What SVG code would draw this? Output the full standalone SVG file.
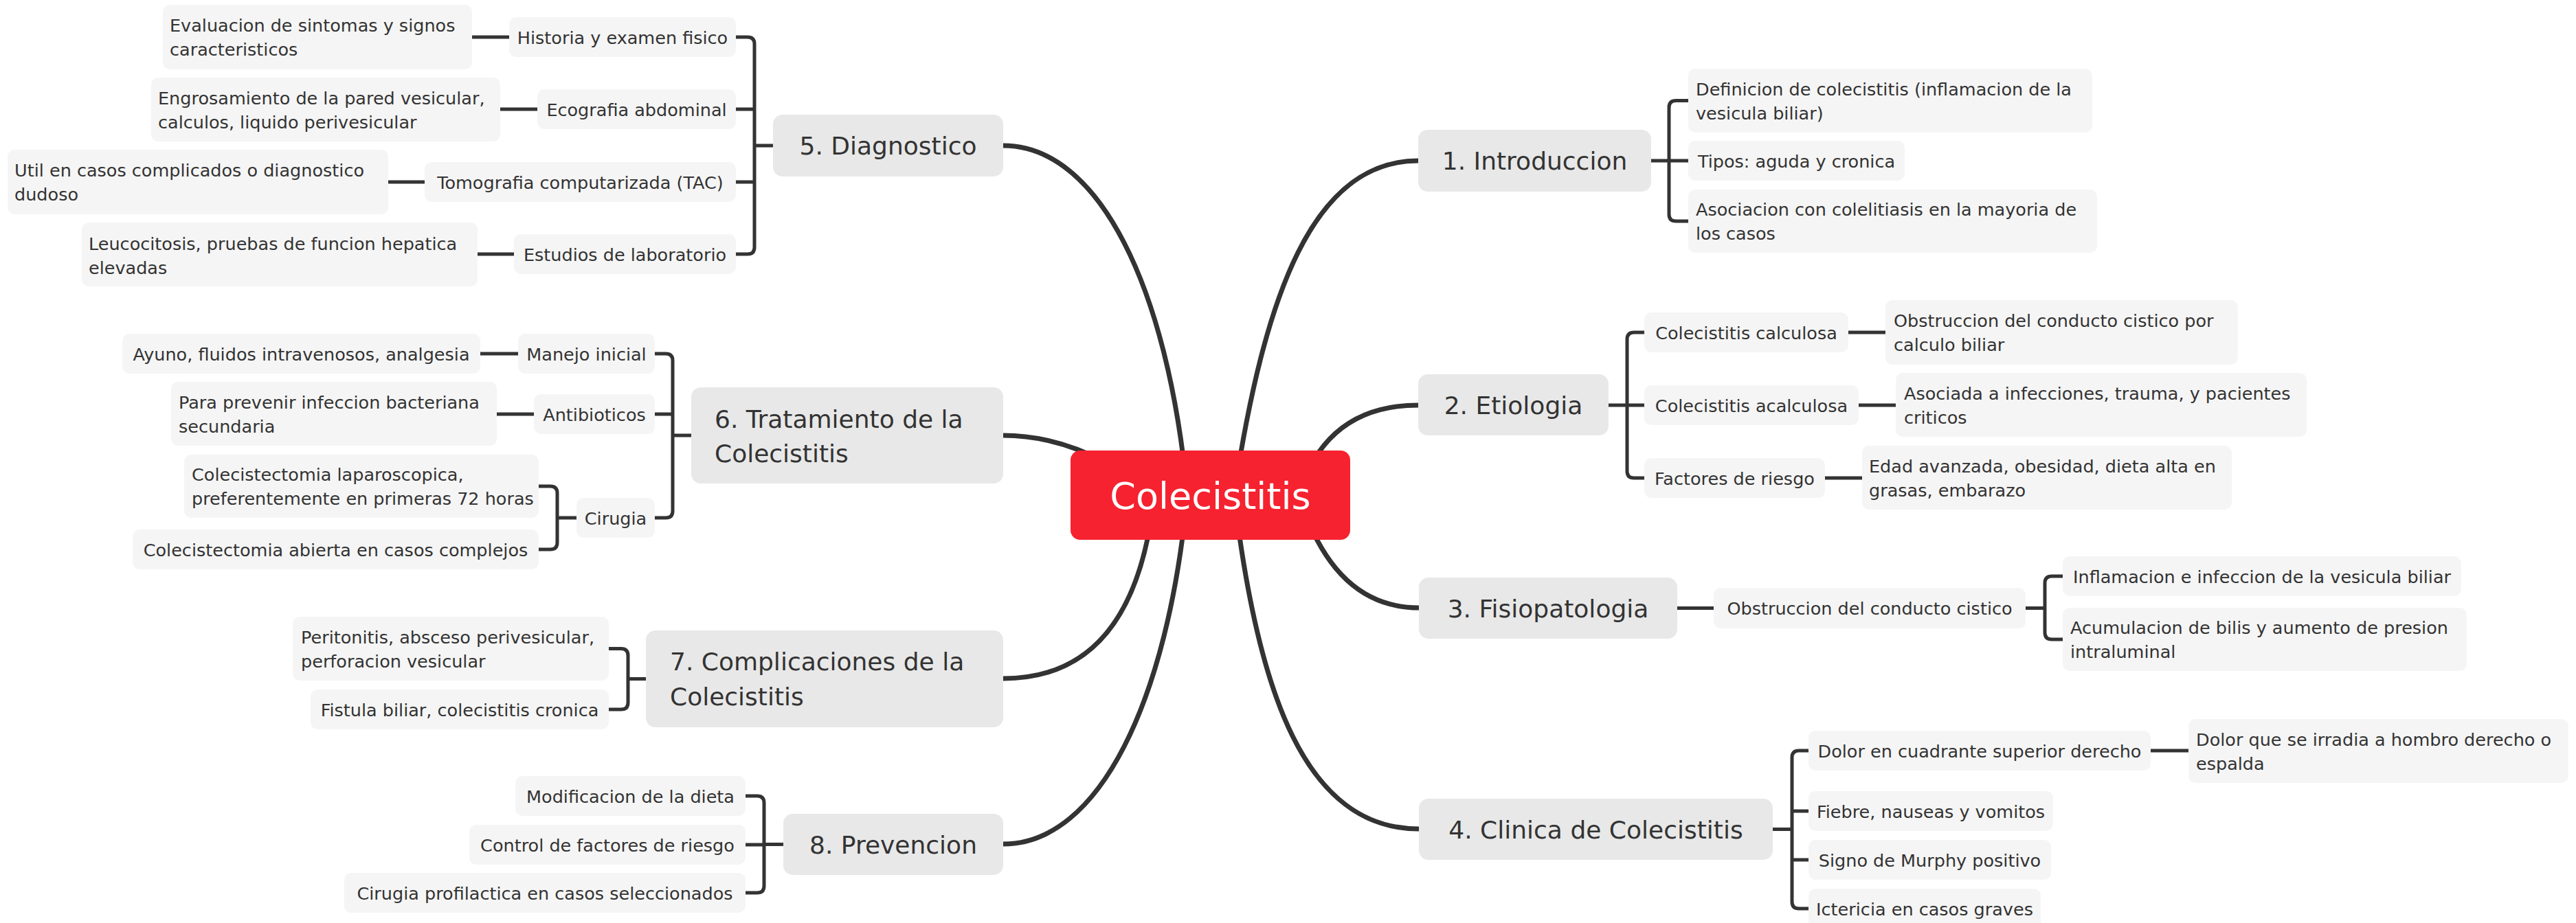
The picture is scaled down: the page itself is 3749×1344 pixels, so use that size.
<svg xmlns="http://www.w3.org/2000/svg" width="3749" height="1344" viewBox="0 0 3749 1344">
<style>
text{font-family:"DejaVu Sans","Liberation Sans",sans-serif;fill:#333333}
.curve{fill:none;stroke:#333333;stroke-width:7;stroke-linecap:round}
.br{fill:none;stroke:#333333;stroke-width:5}
.root rect{fill:#F6222F}
.root text{fill:#FFFFFF;font-size:54px;text-anchor:middle}
.main rect{fill:#E8E8E8}
.main text{font-size:36px}
.sub rect{fill:#F5F5F5}
.sub text{font-size:25.5px}
.c{text-anchor:middle}
</style>
<rect width="3749" height="1344" fill="#FFFFFF"/>
<g id="connectors">
<path class="curve" d="M1728,720 C1700,420 1600,212 1460,212"/>
<path class="curve" d="M1700,735 Q1580,634 1460,634"/>
<path class="curve" d="M1680,720 C1660,910 1580,988 1460,988"/>
<path class="curve" d="M1728,720 C1700,1020 1600,1229 1460,1229"/>
<path class="curve" d="M1796,720 C1840,430 1910,234 2064,234"/>
<path class="curve" d="M1890,720 Q1931,590 2064,590"/>
<path class="curve" d="M1890,720 Q1941,885 2065,885"/>
<path class="curve" d="M1796,720 C1830,1010 1900,1207 2065,1207"/>
<path class="br" d="M2403,234 H2457 M2457,146.5 H2439 Q2429,146.5 2429,156.5 V312 Q2429,322 2439,322 H2457"/>
<path class="br" d="M2341,590 H2393 M2393,484 H2378 Q2368,484 2368,494 V686 Q2368,696 2378,696 H2393"/>
<path class="br" d="M2690,484 H2744 M2705,590 H2759 M2656,696 H2710"/>
<path class="br" d="M2441,885.5 H2494 M2948,885.5 H2976 M3002,839 H2986 Q2976,839 2976,849 V921 Q2976,931 2986,931 H3002"/>
<path class="br" d="M2580,1207.5 H2608 M2632,1093 H2618 Q2608,1093 2608,1103 V1313 Q2608,1323 2618,1323 H2632 M2608,1181 H2632 M2608,1252 H2632 M3130,1093 H3185"/>
<path class="br" d="M1125,212 H1098 M1071,54 H1088 Q1098,54 1098,64 V360 Q1098,370 1088,370 H1071 M1098,159 H1071 M1098,265 H1071"/>
<path class="br" d="M687,54 H741 M728,159 H782 M565,265 H618 M695,370 H748"/>
<path class="br" d="M1006,634 H979 M953,515 H969 Q979,515 979,525 V744 Q979,754 969,754 H953 M979,603 H953 M699,515 H754 M723,603 H777"/>
<path class="br" d="M839,754 H811 M784,708 H801 Q811,708 811,718 V790 Q811,800 801,800 H784"/>
<path class="br" d="M940,988.5 H914 M886,944.5 H904 Q914,944.5 914,954.5 V1023 Q914,1033 904,1033 H886"/>
<path class="br" d="M1140,1229.5 H1112 M1085,1159 H1102 Q1112,1159 1112,1169 V1290 Q1112,1300 1102,1300 H1085 M1112,1230 H1085"/>
</g>
<g id="root" class="root"><rect x="1558" y="656" width="407" height="130" rx="14"/><text x="1761.5" y="741">Colecistitis</text></g>
<g id="m1" class="main"><rect x="2064" y="189" width="339" height="90" rx="14"/><text class="c" x="2233.5" y="247">1. Introduccion</text></g>
<g id="m2" class="main"><rect x="2064" y="545" width="277" height="89" rx="14"/><text class="c" x="2202.5" y="603">2. Etiologia</text></g>
<g id="m3" class="main"><rect x="2065" y="841" width="376" height="89" rx="14"/><text class="c" x="2253" y="898.5">3. Fisiopatologia</text></g>
<g id="m4" class="main"><rect x="2065" y="1163" width="515" height="89" rx="14"/><text class="c" x="2322.5" y="1220.5">4. Clinica de Colecistitis</text></g>
<g id="m5" class="main"><rect x="1125" y="167" width="335" height="90" rx="14"/><text class="c" x="1292.5" y="225">5. Diagnostico</text></g>
<g id="m6" class="main"><rect x="1006" y="564" width="454" height="140" rx="14"/><text x="1040" y="623">6. Tratamiento de la<tspan x="1040" y="673">Colecistitis</tspan></text></g>
<g id="m7" class="main"><rect x="940" y="918" width="520" height="141" rx="14"/><text x="975" y="976">7. Complicaciones de la<tspan x="975" y="1027">Colecistitis</tspan></text></g>
<g id="m8" class="main"><rect x="1140" y="1185" width="320" height="89" rx="14"/><text class="c" x="1300" y="1242.5">8. Prevencion</text></g>
<g id="s1a" class="sub"><rect x="2457" y="100" width="588" height="93" rx="10"/><text x="2468" y="138.5">Definicion de colecistitis (inflamacion de la<tspan x="2468" y="173.5">vesicula biliar)</tspan></text></g>
<g id="s1b" class="sub"><rect x="2457" y="205" width="315" height="58" rx="10"/><text class="c" x="2614.5" y="243.5">Tipos: aguda y cronica</text></g>
<g id="s1c" class="sub"><rect x="2457" y="276" width="595" height="92" rx="10"/><text x="2468" y="314">Asociacion con colelitiasis en la mayoria de<tspan x="2468" y="349">los casos</tspan></text></g>
<g id="s2a" class="sub"><rect x="2393" y="455" width="297" height="58" rx="10"/><text class="c" x="2541.5" y="493.5">Colecistitis calculosa</text></g>
<g id="s2a1" class="sub"><rect x="2744" y="437" width="513" height="94" rx="10"/><text x="2756" y="476">Obstruccion del conducto cistico por<tspan x="2756" y="511">calculo biliar</tspan></text></g>
<g id="s2b" class="sub"><rect x="2393" y="561" width="312" height="58" rx="10"/><text class="c" x="2549" y="599.5">Colecistitis acalculosa</text></g>
<g id="s2b1" class="sub"><rect x="2759" y="543" width="598" height="93" rx="10"/><text x="2771" y="582">Asociada a infecciones, trauma, y pacientes<tspan x="2771" y="617">criticos</tspan></text></g>
<g id="s2c" class="sub"><rect x="2393" y="667" width="263" height="58" rx="10"/><text class="c" x="2524.5" y="705.5">Factores de riesgo</text></g>
<g id="s2c1" class="sub"><rect x="2710" y="649" width="538" height="93" rx="10"/><text x="2720" y="687.5">Edad avanzada, obesidad, dieta alta en<tspan x="2720" y="722.5">grasas, embarazo</tspan></text></g>
<g id="s3a" class="sub"><rect x="2494" y="856" width="454" height="59" rx="10"/><text class="c" x="2721" y="895">Obstruccion del conducto cistico</text></g>
<g id="s3a1" class="sub"><rect x="3002" y="810" width="580" height="58" rx="10"/><text class="c" x="3292" y="848.5">Inflamacion e infeccion de la vesicula biliar</text></g>
<g id="s3a2" class="sub"><rect x="3002" y="885" width="588" height="92" rx="10"/><text x="3013" y="923">Acumulacion de bilis y aumento de presion<tspan x="3013" y="958">intraluminal</tspan></text></g>
<g id="s4a" class="sub"><rect x="2632" y="1064" width="498" height="58" rx="10"/><text class="c" x="2881" y="1102.5">Dolor en cuadrante superior derecho</text></g>
<g id="s4a1" class="sub"><rect x="3185" y="1047" width="553" height="93" rx="10"/><text x="3196" y="1085.5">Dolor que se irradia a hombro derecho o<tspan x="3196" y="1120.5">espalda</tspan></text></g>
<g id="s4b" class="sub"><rect x="2632" y="1152" width="356" height="58" rx="10"/><text class="c" x="2810" y="1190.5">Fiebre, nauseas y vomitos</text></g>
<g id="s4c" class="sub"><rect x="2632" y="1223" width="353" height="58" rx="10"/><text class="c" x="2808.5" y="1261.5">Signo de Murphy positivo</text></g>
<g id="s4d" class="sub"><rect x="2632" y="1294" width="338" height="58" rx="10"/><text class="c" x="2801" y="1332.5">Ictericia en casos graves</text></g>
<g id="s5a" class="sub"><rect x="741" y="25" width="330" height="58" rx="10"/><text class="c" x="906" y="63.5">Historia y examen fisico</text></g>
<g id="s5a1" class="sub"><rect x="237" y="7" width="450" height="94" rx="10"/><text x="247" y="46">Evaluacion de sintomas y signos<tspan x="247" y="81">caracteristicos</tspan></text></g>
<g id="s5b" class="sub"><rect x="782" y="130" width="289" height="58" rx="10"/><text class="c" x="926.5" y="168.5">Ecografia abdominal</text></g>
<g id="s5b1" class="sub"><rect x="220" y="113" width="508" height="93" rx="10"/><text x="230" y="151.5">Engrosamiento de la pared vesicular,<tspan x="230" y="186.5">calculos, liquido perivesicular</tspan></text></g>
<g id="s5c" class="sub"><rect x="618" y="236" width="453" height="58" rx="10"/><text class="c" x="844.5" y="274.5">Tomografia computarizada (TAC)</text></g>
<g id="s5c1" class="sub"><rect x="11" y="218" width="554" height="94" rx="10"/><text x="21" y="257">Util en casos complicados o diagnostico<tspan x="21" y="292">dudoso</tspan></text></g>
<g id="s5d" class="sub"><rect x="748" y="341" width="323" height="58" rx="10"/><text class="c" x="909.5" y="379.5">Estudios de laboratorio</text></g>
<g id="s5d1" class="sub"><rect x="119" y="324" width="576" height="93" rx="10"/><text x="129" y="364">Leucocitosis, pruebas de funcion hepatica<tspan x="129" y="399">elevadas</tspan></text></g>
<g id="s6a" class="sub"><rect x="754" y="486" width="199" height="58" rx="10"/><text class="c" x="853.5" y="524.5">Manejo inicial</text></g>
<g id="s6a1" class="sub"><rect x="178" y="486" width="521" height="58" rx="10"/><text class="c" x="438.5" y="524.5">Ayuno, fluidos intravenosos, analgesia</text></g>
<g id="s6b" class="sub"><rect x="777" y="574" width="176" height="58" rx="10"/><text class="c" x="865" y="612.5">Antibioticos</text></g>
<g id="s6b1" class="sub"><rect x="249" y="556" width="474" height="93" rx="10"/><text x="260" y="594.5">Para prevenir infeccion bacteriana<tspan x="260" y="629.5">secundaria</tspan></text></g>
<g id="s6c" class="sub"><rect x="839" y="725" width="114" height="58" rx="10"/><text class="c" x="896" y="763.5">Cirugia</text></g>
<g id="s6c1" class="sub"><rect x="268" y="662" width="516" height="92" rx="10"/><text x="279" y="700">Colecistectomia laparoscopica,<tspan x="279" y="735">preferentemente en primeras 72 horas</tspan></text></g>
<g id="s6c2" class="sub"><rect x="193" y="771" width="591" height="58" rx="10"/><text class="c" x="488.5" y="809.5">Colecistectomia abierta en casos complejos</text></g>
<g id="s7a" class="sub"><rect x="426" y="898" width="460" height="93" rx="10"/><text x="438" y="936.5">Peritonitis, absceso perivesicular,<tspan x="438" y="971.5">perforacion vesicular</tspan></text></g>
<g id="s7b" class="sub"><rect x="452" y="1004" width="434" height="58" rx="10"/><text class="c" x="669" y="1042.5">Fistula biliar, colecistitis cronica</text></g>
<g id="s8a" class="sub"><rect x="750" y="1130" width="335" height="58" rx="10"/><text class="c" x="917.5" y="1168.5">Modificacion de la dieta</text></g>
<g id="s8b" class="sub"><rect x="683" y="1201" width="402" height="58" rx="10"/><text class="c" x="884" y="1239.5">Control de factores de riesgo</text></g>
<g id="s8c" class="sub"><rect x="501" y="1271" width="584" height="58" rx="10"/><text class="c" x="793" y="1309.5">Cirugia profilactica en casos seleccionados</text></g>
</svg>
